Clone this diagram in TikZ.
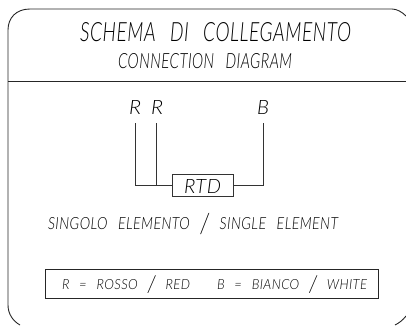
\documentclass[tikz,border=0pt]{standalone}
\usepackage{fontspec}
\setmainfont{Lato Light}[ItalicFont=Lato Light Italic,LetterSpace=3]
\usepackage{graphicx}
\newcommand{\fitlabel}[3]{\resizebox{#1pt}{#2pt}{\itshape #3}}
\newcommand{\tallslash}{\raisebox{-2.5pt}[0pt][0pt]{\resizebox{0.62em}{1.2em}{/}}}
\newcommand{\gap}{\hspace{0.75em}}
\tikzset{
  x=1pt,y=-1pt,
  lab/.style={inner sep=0pt,outer sep=0pt,anchor=base west,text=black},
  wire/.style={draw=black!80,line width=0.8pt},
  frame/.style={draw=black!85,line width=0.9pt},
}
\begin{document}
\begin{tikzpicture}
\useasboundingbox (0,0) rectangle (406,325);
\draw[frame] (20,325) .. controls (13,321) and (8,314) .. (8,305) -- (8,30)
  .. controls (8,18) and (16,9) .. (30,9) -- (392,9) .. controls (397,9) and (402,12) .. (406,16);
\draw[frame] (395,325) .. controls (399,323) and (403,320) .. (406,316);
\draw[frame] (8,81) -- (406,81);
\node[lab] (title) at (80,41) {\fitlabel{271}{19}{SCHEMA\gap DI\gap COLLEGAMENTO}};
\node[lab] (sub) at (118,68) {\fitlabel{174}{15}{CONNECTION\gap DIAGRAM}};
\node[lab] (r1) at (129,114) {\fitlabel{12}{14}{R}};
\node[lab] (r2) at (151,114) {\fitlabel{12}{14}{R}};
\node[lab] (b) at (257,114) {\fitlabel{12}{14}{B}};
\node[draw=black!80,line width=0.8pt,minimum width=61pt,minimum height=22pt,inner sep=0pt] (rtd) at (202.5,185) {};
\node[lab] (rtdt) at (184,193) {\fitlabel{37}{14}{RTD}};
\coordinate (t1) at (135,123);
\coordinate (t2) at (156,123);
\coordinate (t3) at (263,123);
\coordinate (j1) at (135,185);
\coordinate (j2) at (156,185);
\coordinate (j3) at (263,185);
\draw[wire] (t1) -- (j1) -- (rtd.west);
\draw[wire] (t2) -- (j2);
\draw[wire] (rtd.east) -- (j3) -- (t3);
\node[lab] (single) at (48,229) {\fitlabel{290}{12}{SINGOLO\gap ELEMENTO\gap \tallslash\gap SINGLE\gap ELEMENT}};
\node[draw=black!85,line width=0.9pt,minimum width=333pt,minimum height=29pt,inner sep=0pt] (legend) at (211.5,283.5) {};
\node[lab] (lr) at (62,289) {\fitlabel{128}{10}{R\gap =\gap ROSSO\gap \tallslash\gap RED}};
\node[lab] (lb) at (217,289) {\fitlabel{150}{10}{B\gap =\gap BIANCO\gap \tallslash\gap WHITE}};
\end{tikzpicture}
\end{document}
